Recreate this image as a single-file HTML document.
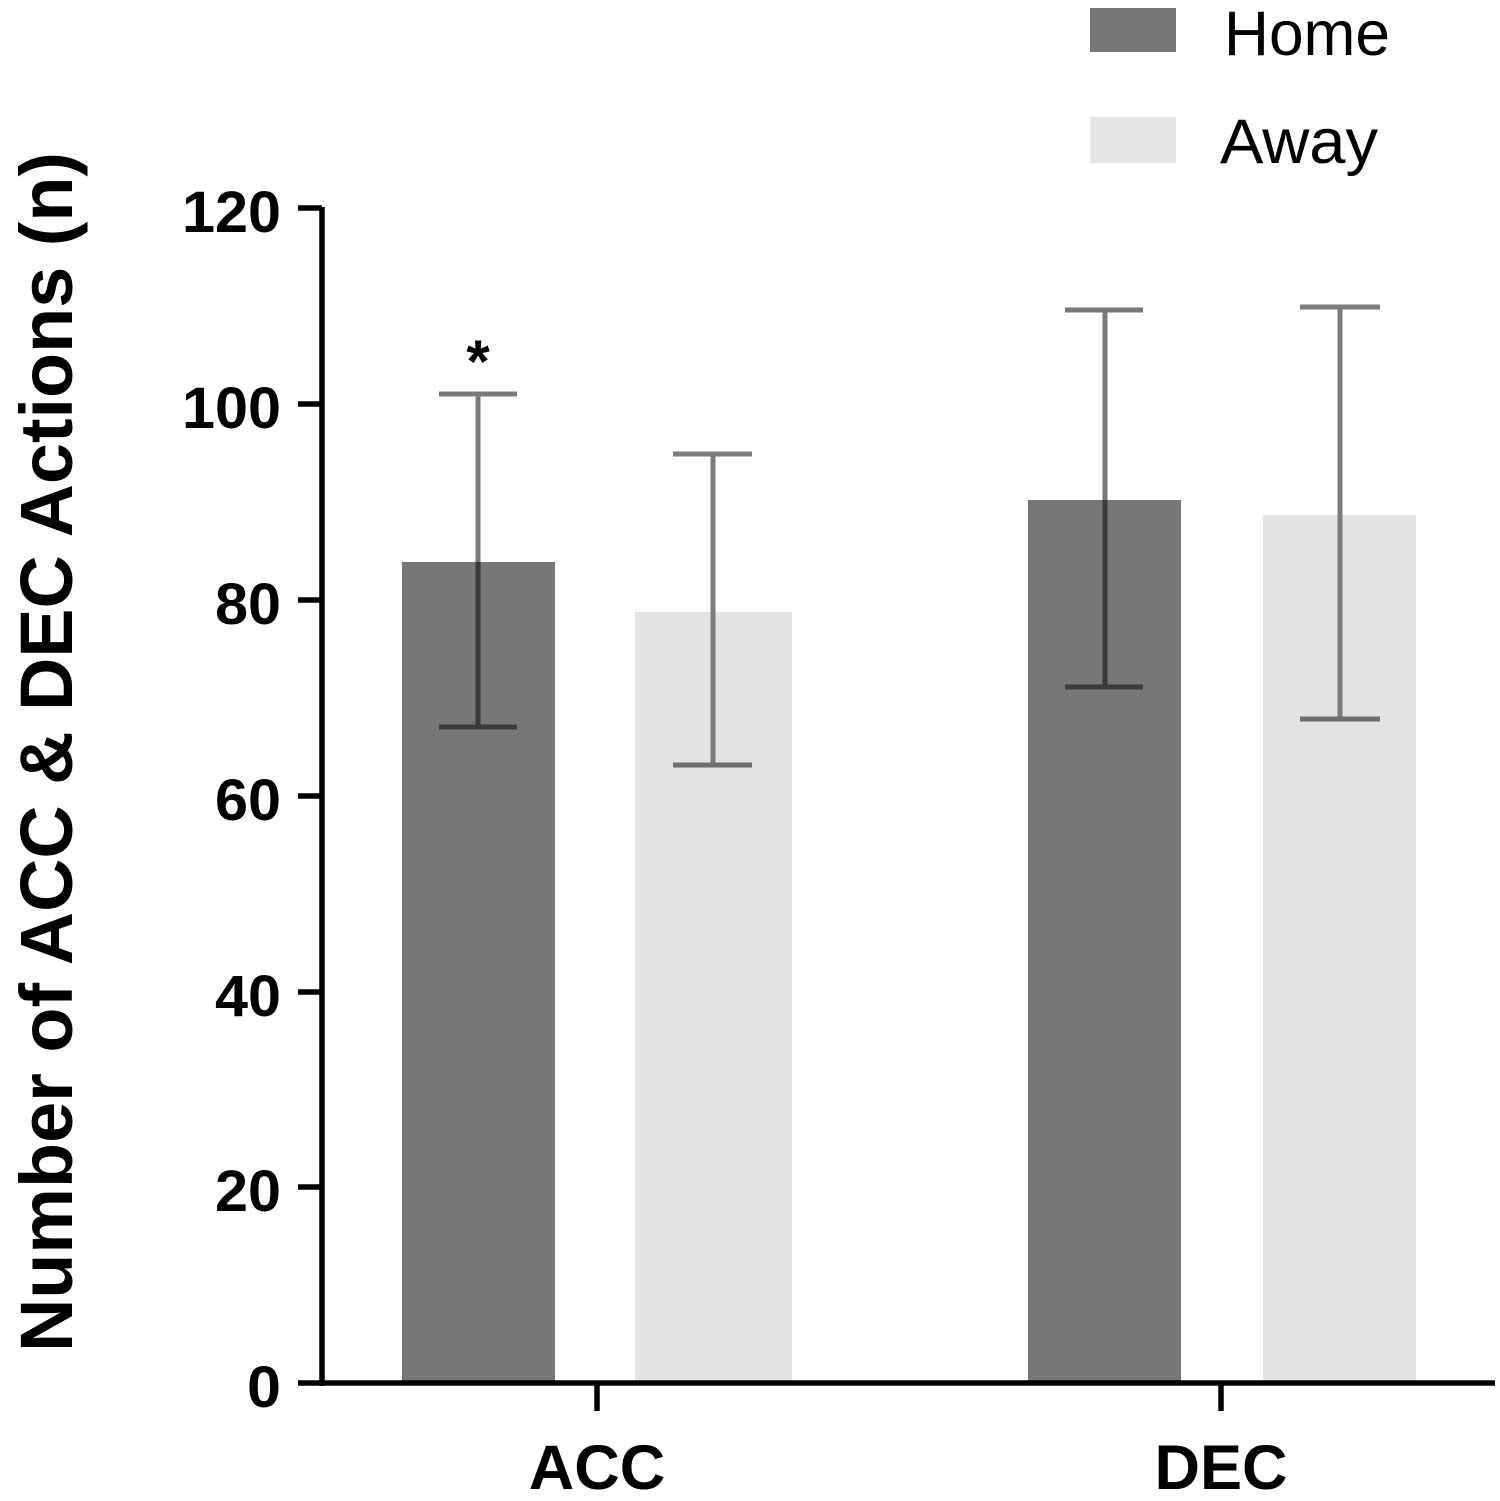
<!DOCTYPE html>
<html>
<head>
<meta charset="utf-8">
<style>
  html, body { margin:0; padding:0; background:#fff; }
  svg { display:block; }
  text { font-family: "Liberation Sans", Arial, sans-serif; fill:#000; }
</style>
</head>
<body>
<svg width="1500" height="1501" viewBox="0 0 1500 1501" xmlns="http://www.w3.org/2000/svg">
  <rect x="0" y="0" width="1500" height="1501" fill="#fff"/>

  <!-- Legend -->
  <rect x="1090" y="8" width="86" height="44" fill="#777777"/>
  <rect x="1090" y="117" width="86" height="46" fill="#e4e4e4"/>
  <text x="1224" y="55" font-size="63" textLength="166" lengthAdjust="spacingAndGlyphs">Home</text>
  <text x="1220" y="163" font-size="63" textLength="158" lengthAdjust="spacingAndGlyphs">Away</text>

  <!-- Bars -->
  <rect x="402" y="562" width="153" height="821" fill="#777777"/>
  <rect x="635" y="612" width="157" height="771" fill="#e3e3e3"/>
  <rect x="1028" y="500" width="153" height="883" fill="#777777"/>
  <rect x="1263" y="515" width="153" height="868" fill="#e3e3e3"/>

  <!-- Error bars -->
  <g stroke-width="5" fill="none">
    <line x1="478" y1="394" x2="478" y2="562" stroke="#7a7a7a"/>
    <line x1="439" y1="394" x2="517" y2="394" stroke="#7a7a7a"/>
    <line x1="478" y1="562" x2="478" y2="727" stroke="#3a3a3a"/>
    <line x1="439" y1="727" x2="517" y2="727" stroke="#3a3a3a"/>

    <line x1="713" y1="454" x2="713" y2="765" stroke="#7c7c7c"/>
    <line x1="673" y1="454" x2="752" y2="454" stroke="#7c7c7c"/>
    <line x1="673" y1="765" x2="752" y2="765" stroke="#6e6e6e"/>

    <line x1="1105" y1="310" x2="1105" y2="500" stroke="#7a7a7a"/>
    <line x1="1065" y1="310" x2="1143" y2="310" stroke="#7a7a7a"/>
    <line x1="1105" y1="500" x2="1105" y2="687" stroke="#3a3a3a"/>
    <line x1="1065" y1="687" x2="1143" y2="687" stroke="#3a3a3a"/>

    <line x1="1340" y1="307" x2="1340" y2="719" stroke="#7c7c7c"/>
    <line x1="1300" y1="307" x2="1380" y2="307" stroke="#7c7c7c"/>
    <line x1="1300" y1="719" x2="1380" y2="719" stroke="#6e6e6e"/>
  </g>

  <!-- Significance star -->
  <text x="478" y="382" font-size="60" font-weight="bold" text-anchor="middle">*</text>

  <!-- Axes -->
  <g stroke="#000" stroke-width="5.5" fill="none">
    <line x1="322" y1="207" x2="322" y2="1386"/>
    <line x1="298" y1="1383" x2="1495" y2="1383"/>
    <line x1="298" y1="208" x2="322" y2="208"/>
    <line x1="298" y1="404" x2="322" y2="404"/>
    <line x1="298" y1="600" x2="322" y2="600"/>
    <line x1="298" y1="796" x2="322" y2="796"/>
    <line x1="298" y1="992" x2="322" y2="992"/>
    <line x1="298" y1="1187" x2="322" y2="1187"/>
    <line x1="597" y1="1383" x2="597" y2="1411"/>
    <line x1="1221" y1="1383" x2="1221" y2="1411"/>
  </g>

  <!-- Y tick labels -->
  <g font-size="58" font-weight="bold">
    <text x="182" y="232" textLength="99" lengthAdjust="spacingAndGlyphs">120</text>
    <text x="182" y="428" textLength="99" lengthAdjust="spacingAndGlyphs">100</text>
    <text x="215" y="624" textLength="66" lengthAdjust="spacingAndGlyphs">80</text>
    <text x="215" y="820" textLength="66" lengthAdjust="spacingAndGlyphs">60</text>
    <text x="215" y="1016" textLength="66" lengthAdjust="spacingAndGlyphs">40</text>
    <text x="215" y="1211" textLength="66" lengthAdjust="spacingAndGlyphs">20</text>
    <text x="247" y="1407" textLength="34" lengthAdjust="spacingAndGlyphs">0</text>
  </g>

  <!-- X labels -->
  <text x="597" y="1489" font-size="63" font-weight="bold" text-anchor="middle">ACC</text>
  <text x="1221" y="1489" font-size="63" font-weight="bold" text-anchor="middle">DEC</text>

  <!-- Y axis title -->
  <text transform="translate(72,1352) rotate(-90)" font-size="74" font-weight="bold" textLength="1200" lengthAdjust="spacingAndGlyphs">Number of ACC &amp; DEC Actions (n)</text>
</svg>
</body>
</html>
